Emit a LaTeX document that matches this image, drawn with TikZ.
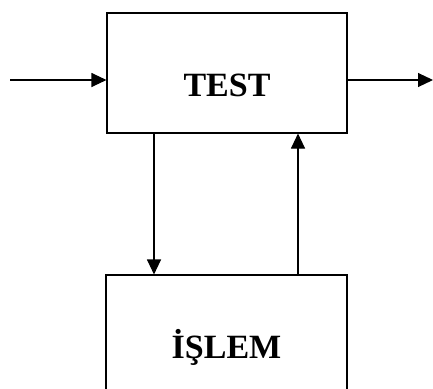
\documentclass[tikz,border=0pt]{standalone}
\usepackage{fontspec}
\setmainfont{Liberation Serif}
\usetikzlibrary{arrows.meta, positioning}

\begin{document}
\begin{tikzpicture}[
  x=1pt, y=-1pt,
  blok/.style={rectangle, draw=black, line width=1.1pt, inner sep=0pt},
  etiket/.style={font=\fontsize{34}{38}\selectfont\bfseries},
  >={Triangle[length=15pt, width=14pt]}
]
  \useasboundingbox (0,0) rectangle (433,388);

  \node[blok, minimum width=240pt, minimum height=120pt] (test) at (227,73) {};
  \node[etiket] (testyazi) at (227,85) {TEST};
  \node[blok, minimum width=241pt, minimum height=144pt] (islem) at (226.5,347) {};
  \node[etiket] (islemyazi) at (226.5,347) {İŞLEM};

  \coordinate (giris) at (10,80);
  \coordinate (cikis) at (433,80);
  \coordinate (asagi) at (154,0);
  \coordinate (yukari) at (298,0);

  \draw[->, line width=1.1pt] (giris) -- (giris -| test.west);
  \draw[->, line width=1.1pt] (test.east |- cikis) -- (cikis);
  \draw[->, line width=1.1pt] (asagi |- test.south) -- (asagi |- islem.north);
  \draw[->, line width=1.1pt] (yukari |- islem.north) -- (yukari |- test.south);
\end{tikzpicture}
\end{document}
